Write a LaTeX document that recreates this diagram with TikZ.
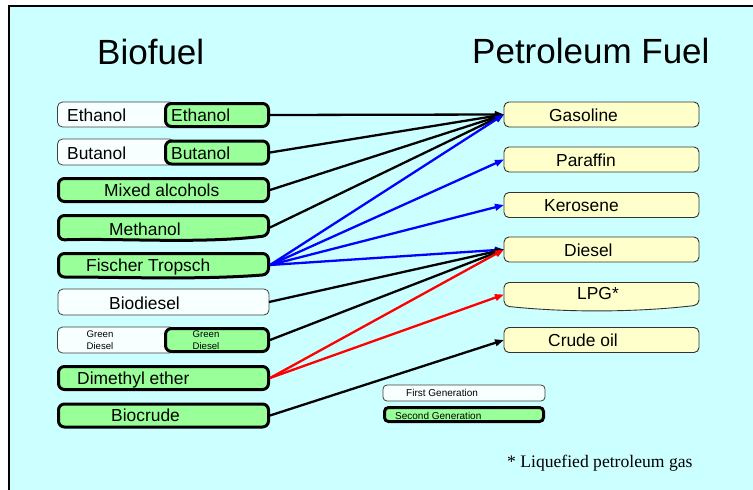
\documentclass[tikz,border=0pt]{standalone}
\usepackage{fontspec}
\setmainfont{Liberation Sans}
\newfontfamily\serifft{Liberation Serif}
\usetikzlibrary{arrows.meta}
\definecolor{bgcyan}{HTML}{CCFFFF}
\definecolor{gfill}{HTML}{99FF99}
\definecolor{yfill}{HTML}{FFFFCC}
\definecolor{wfill}{HTML}{F8FFFF}
\begin{document}
\begin{tikzpicture}[x=1pt,y=-1pt,
  firstgen/.style={draw=black!75, line width=0.8pt, fill=wfill, rounded corners=5pt, minimum height=25pt, inner sep=0pt, outer sep=0pt},
  secondgen/.style={draw=black, line width=3pt, fill=gfill, rounded corners=6pt, minimum height=23pt, inner sep=0pt, outer sep=1.5pt},
  petro/.style={draw=black!80, line width=0.9pt, fill=yfill, rounded corners=5pt, minimum width=195pt, minimum height=25pt, inner sep=0pt, outer sep=0pt},
  ghost/.style={minimum width=#1, minimum height=24pt, inner sep=0pt, outer sep=1.5pt},
  lbl/.style={font=\fontsize{17.4}{20}\selectfont, inner sep=0pt, anchor=base west},
  smalllbl/.style={font=\fontsize{9.6}{11.5}\selectfont, inner sep=0pt, anchor=base},
  leglbl/.style={font=\fontsize{10}{12}\selectfont, inner sep=0pt, anchor=base west},
  conn/.style={line width=2.3pt, -{Triangle[length=9pt,width=6.5pt]}},
]
\useasboundingbox (0,0) rectangle (753,490);
\fill[white] (0,0) rectangle (753,490);
\fill[bgcyan] (9,6) rectangle (753,490);
\draw[line width=2pt] (753,6) -- (9,6) -- (9,490);

% titles
\node[font=\fontsize{35}{40}\selectfont, anchor=base west, inner sep=0pt] (t1) at (97,64) {Biofuel};
\node[font=\fontsize{35}{40}\selectfont, anchor=base west, inner sep=0pt] (t2) at (472,63.5) {Petroleum Fuel};

% left column
\node[firstgen, minimum width=117pt] (eth1) at (116,114.5) {};
\node[secondgen, minimum width=103pt] (eth2) at (217,115) {};
\node[lbl] (eth1t) at (67,121.6) {Ethanol};
\node[lbl] (eth2t) at (171,121.6) {Ethanol};

\node[firstgen, minimum width=117pt, minimum height=26pt] (but1) at (116,152) {};
\node[secondgen, minimum width=103pt] (but2) at (217,152.5) {};
\node[lbl] (but1t) at (67,159) {Butanol};
\node[lbl] (but2t) at (171,159) {Butanol};

\node[secondgen, minimum width=210pt] (mix) at (163.5,190) {};
\node[lbl] (mixt) at (104,196.7) {Mixed alcohols};

\draw[secondgen] (163.5,215.5) -- (268.5,215.5) -- (268.5,235.5) .. controls (200,244) and (120,238) .. (58.5,240) -- (58.5,215.5) -- cycle;
\node[ghost=210pt] (meth) at (163.5,227.5) {};
\node[lbl] (metht) at (109,235.5) {Methanol};

\draw[secondgen] (163.5,253.5) -- (268.5,253.5) -- (268.5,274.5) .. controls (200,280) and (120,277) .. (58.5,277) -- (58.5,253.5) -- cycle;
\node[ghost=210pt] (fis) at (163.5,265) {};
\node[lbl] (fist) at (86,271.7) {Fischer Tropsch};

\node[firstgen, minimum width=211pt, minimum height=26pt] (biod) at (163.5,302) {};
\node[lbl] (biodt) at (109,309.3) {Biodiesel};

\node[firstgen, minimum width=117pt, minimum height=26pt] (gd1) at (116,340) {};
\node[secondgen, minimum width=103pt] (gd2) at (217,340) {};
\node[smalllbl] (gd1a) at (100,337.3) {Green};
\node[smalllbl] (gd1b) at (100,349) {Diesel};
\node[smalllbl] (gd2a) at (206,337.3) {Green};
\node[smalllbl] (gd2b) at (206,349) {Diesel};

\node[secondgen, minimum width=210pt] (dme) at (163.5,378) {};
\node[lbl] (dmet) at (77,384.3) {Dimethyl ether};

\node[secondgen, minimum width=210pt] (bioc) at (163.5,415.5) {};
\node[lbl] (bioct) at (111,421.7) {Biocrude};

% right column
\node[petro] (gas) at (601.5,114.5) {};
\node[lbl] (gast) at (549,121.7) {Gasoline};
\node[petro] (par) at (601.5,159.5) {};
\node[lbl] (part) at (556,166.7) {Paraffin};
\node[petro] (ker) at (601.5,205) {};
\node[lbl] (kert) at (544,211.7) {Kerosene};
\node[petro] (die) at (601.5,249.5) {};
\node[lbl] (diet) at (564,256.7) {Diesel};
\draw[draw=black!80, line width=0.9pt, fill=yfill, rounded corners=5pt] (601.5,282.5) -- (699,282.5) -- (699,305) .. controls (640,312) and (570,313) .. (504,306) -- (504,282.5) -- cycle;
\node[minimum width=195pt, minimum height=24pt, inner sep=0pt, outer sep=0pt] (lpg) at (601.5,294.5) {};
\node[lbl] (lpgt) at (577,299) {LPG*};
\node[petro] (cru) at (601.5,340) {};
\node[lbl] (crut) at (548,346.7) {Crude oil};

% connectors
\draw[conn] (eth2.east) -- (gas.west);
\draw[conn] (but2.east) -- (gas.west);
\draw[conn] (mix.east) -- (gas.west);
\draw[conn] (meth.east) -- (gas.west);
\draw[conn, blue] (fis.east) -- (gas.west);
\draw[conn, blue] (fis.east) -- (par.west);
\draw[conn, blue] (fis.east) -- (ker.west);
\draw[conn, blue] (fis.east) -- (die.west);
\draw[conn] (biod.east) -- (die.west);
\draw[conn] (gd2.east) -- (die.west);
\draw[conn, red] (dme.east) -- (die.west);
\draw[conn, red] (dme.east) -- (lpg.west);
\draw[conn] (bioc.east) -- (cru.west);

% legend
\node[firstgen, minimum width=162pt, minimum height=16pt, rounded corners=4pt] (lg1) at (464,393) {};
\node[secondgen, minimum width=159pt, minimum height=14pt, rounded corners=4pt] (lg2) at (464,414.5) {};
\node[leglbl] (lg1t) at (406,396) {First Generation};
\node[leglbl] (lg2t) at (395,419) {Second Generation};

% footnote
\node[font=\serifft\fontsize{17.6}{20}\selectfont, anchor=base west, inner sep=0pt] (fn) at (507,467.3) {* Liquefied petroleum gas};
\end{tikzpicture}
\end{document}
